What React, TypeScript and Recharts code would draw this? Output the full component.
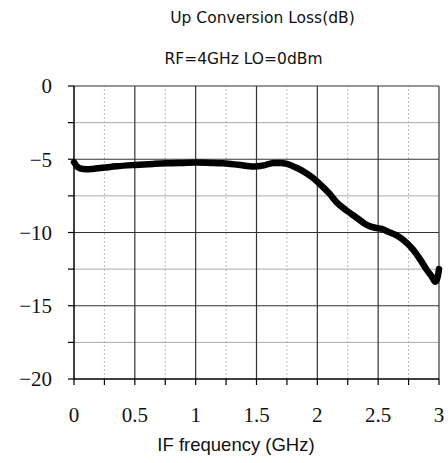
import React from 'react';
import { LineChart, Line, XAxis, YAxis, ReferenceLine } from 'recharts';

// IF frequency (GHz) and conversion loss (dB)
const freq = [0, 0.02, 0.05, 0.1, 0.15, 0.25, 0.35, 0.5, 0.65, 0.76, 0.9, 1.01, 1.12, 1.23, 1.35, 1.48, 1.56, 1.64, 1.7, 1.75, 1.82, 1.89, 1.96, 2.03, 2.1, 2.16, 2.24, 2.33, 2.38, 2.44, 2.49, 2.53, 2.58, 2.64, 2.69, 2.74, 2.79, 2.85, 2.9, 2.94, 2.97, 2.99, 3.0];
const loss = [-5.2, -5.45, -5.62, -5.68, -5.66, -5.57, -5.48, -5.39, -5.32, -5.28, -5.25, -5.23, -5.25, -5.28, -5.38, -5.5, -5.42, -5.25, -5.25, -5.32, -5.55, -5.85, -6.25, -6.76, -7.35, -7.95, -8.5, -9.03, -9.35, -9.6, -9.7, -9.75, -9.94, -10.15, -10.4, -10.75, -11.2, -11.9, -12.56, -13.0, -13.36, -13.0, -12.5];

const xTicks = [0, 0.25, 0.5, 0.75, 1, 1.25, 1.5, 1.75, 2, 2.25, 2.5, 2.75, 3];
const yTicks = [-20, -17.5, -15, -12.5, -10, -7.5, -5, -2.5, 0];
const xMajor = [0.5, 1, 1.5, 2, 2.5, 3];
const xMinor = [0.25, 0.75, 1.25, 1.75, 2.25, 2.75];
const yMajor = [-15, -10, -5, 0];
const yMinor = [-17.5, -12.5, -7.5, -2.5];

const data = freq.map((f, i) => ({ f, v: loss[i] }));

const serif = '"Liberation Serif", "DejaVu Serif", serif';
const sans = '"DejaVu Sans", sans-serif';

const fmtX = (v: number) => (Math.round(v * 2) === v * 2 ? String(v) : '');
const fmtY = (v: number) => (v % 5 === 0 ? (v < 0 ? '\u2212' + Math.abs(v) : String(v)) : '');

export default function App() {
  return (
    <div style={{ position: 'absolute', left: 0, top: 0, width: 448, height: 463, background: '#fff' }}>
      <div style={{ position: 'absolute', left: 0, width: 525, top: 9, textAlign: 'center', fontFamily: sans, fontSize: 15.5, color: '#111' }}>
        Up Conversion Loss(dB)
      </div>
      <div style={{ position: 'absolute', left: 0, width: 487, top: 50, textAlign: 'center', fontFamily: sans, fontSize: 15.5, color: '#111' }}>
        RF=4GHz LO=0dBm
      </div>
      <LineChart width={448} height={463} data={data} margin={{ top: 86, right: 9, bottom: 44, left: 14 }}>
        {xMinor.map((x) => (
          <ReferenceLine key={'xm' + x} x={x} stroke="#bbb" strokeWidth={1} strokeDasharray="2 2" />
        ))}
        {yMinor.map((y) => (
          <ReferenceLine key={'ym' + y} y={y} stroke="#aaa" strokeWidth={1} />
        ))}
        {xMajor.map((x) => (
          <ReferenceLine key={'xM' + x} x={x} stroke="#333" strokeWidth={1.2} />
        ))}
        {yMajor.map((y) => (
          <ReferenceLine key={'yM' + y} y={y} stroke="#333" strokeWidth={1.2} />
        ))}
        <XAxis
          dataKey="f"
          type="number"
          domain={[0, 3]}
          ticks={xTicks}
          tickFormatter={fmtX}
          interval={0}
          height={40}
          tickSize={6}
          tickMargin={22}
          axisLine={{ stroke: '#000', strokeWidth: 1.5 }}
          tickLine={{ stroke: '#000', strokeWidth: 1.2 }}
          tick={{ fill: '#111', fontFamily: serif, fontSize: 21 }}
        />
        <YAxis
          type="number"
          domain={[-20, 0]}
          ticks={yTicks}
          tickFormatter={fmtY}
          interval={0}
          width={60}
          tickSize={6}
          tickMargin={16}
          axisLine={{ stroke: '#000', strokeWidth: 1.5 }}
          tickLine={{ stroke: '#000', strokeWidth: 1.2 }}
          tick={{ fill: '#111', fontFamily: serif, fontSize: 21 }}
        />
        <Line
          type="monotone"
          dataKey="v"
          stroke="#000"
          strokeWidth={6.5}
          strokeLinejoin="round"
          strokeLinecap="round"
          dot={false}
          isAnimationActive={false}
        />
      </LineChart>
      <div style={{ position: 'absolute', left: 0, width: 472, top: 434, textAlign: 'center', fontFamily: '"Liberation Sans", Arial, sans-serif', fontSize: 18.5, color: '#111' }}>
        IF frequency (GHz)
      </div>
    </div>
  );
}
